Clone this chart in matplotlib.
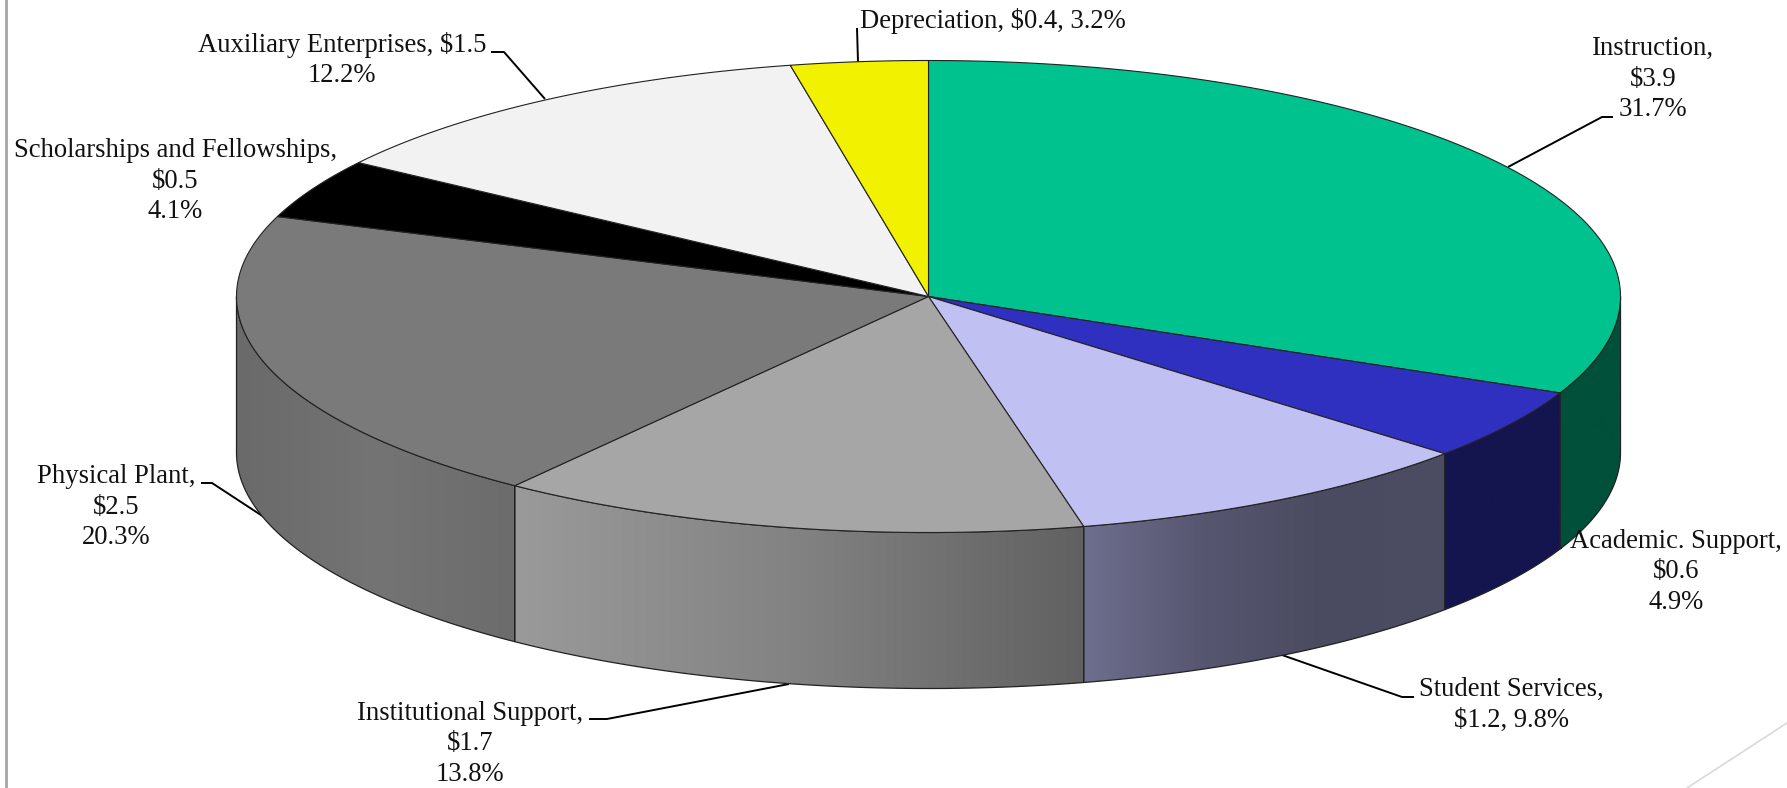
import numpy as np
import matplotlib.pyplot as plt
from matplotlib.colors import LinearSegmentedColormap
from matplotlib.patches import Polygon

plt.rcParams['font.family'] = ['Liberation Serif', 'DejaVu Serif']

names = ['Instruction', 'Academic. Support', 'Student Services', 'Institutional Support',
         'Physical Plant', 'Scholarships and Fellowships', 'Auxiliary Enterprises', 'Depreciation']
dollars = [3.9, 0.6, 1.2, 1.7, 2.5, 0.5, 1.5, 0.4]
percents = [31.7, 4.9, 9.8, 13.8, 20.3, 4.1, 12.2, 3.2]
templates = ['{n},\n${d}\n{p}%', '{n},\n${d}\n{p}%', '{n},\n${d}, {p}%', '{n},\n${d}\n{p}%',
             '{n},\n${d}\n{p}%', '{n},\n${d}\n{p}%', '{n}, ${d}\n{p}%', '{n}, ${d}, {p}%']
top_colors = ['#00C28F', '#3030C0', '#C0C0F2', '#A6A6A6', '#7A7A7A', '#000000', '#F2F2F2', '#F2F200']
side_colors = [['#00503A', '#00503A'], ['#14144F', '#14144F'],
               ['#6E6E8E', '#565670', '#4A4A60', '#4C4C62'], ['#9A9A9A', '#828282', '#616161'],
               ['#6A6A6A', '#747474', '#6C6C6C']]

# label centres and leader lines, in pixels of the picture
label_x = [1653, 1676, 1511, 470, 116, 175, 342, 993]
label_y = [79, 572, 705, 744, 507, 181, 60, 21]
leaders = [[(1508, 167), (1602, 117), (1613, 117)],
           [(1505, 582), (1550, 548), (1562, 548)],
           [(1282, 655), (1402, 697), (1414, 697)],
           [(789, 684), (607, 719), (589, 719)],
           [(267, 519), (212, 483), (201, 483)],
           [],
           [(545, 99), (504, 52), (491, 52)],
           [(858, 62), (857, 28)]]

cx, cy = 928.5, 296.5
a, b = 692, 236
depth = 156


def rim(t, drop=0):
    return np.column_stack([cx + a * np.sin(t), cy - b * np.cos(t) + drop])


fig = plt.figure(figsize=[17.87, 7.88], dpi=100)
ax = fig.add_axes([0, 0, 1, 1])
ax.axis('off')

edges = np.radians(np.cumsum([0] + percents) * 3.6)

# sides, only the front half of the rim shows
for i, colors in enumerate(side_colors):
    t = np.linspace(max(edges[i], np.pi / 2), min(edges[i + 1], 1.5 * np.pi), 200)
    pts = np.vstack([rim(t), rim(t[::-1], depth)])
    side = Polygon(pts, closed=True, facecolor='none', edgecolor='#222222', lw=0.9, zorder=3)
    ax.add_patch(side)
    cmap = LinearSegmentedColormap.from_list('side', colors)
    x0, x1 = pts[:, 0].min(), pts[:, 0].max()
    im = ax.imshow(np.linspace(0, 1, 256).reshape(1, -1), cmap=cmap, aspect='auto',
                   extent=[x0, x1, pts[:, 1].max(), pts[:, 1].min()], zorder=2)
    im.set_clip_path(side)

# top of the pie
for i, color in enumerate(top_colors):
    t = np.linspace(edges[i], edges[i + 1], 200)
    pts = np.vstack([[cx, cy], rim(t)])
    ax.add_patch(Polygon(pts, closed=True, facecolor=color, edgecolor='#222222', lw=0.8, zorder=4))

for line in leaders:
    if line:
        xs, ys = zip(*line)
        ax.plot(xs, ys, color='black', lw=1.4, zorder=1, solid_capstyle='butt')

for i, name in enumerate(names):
    text = templates[i].format(n=name, d=dollars[i], p=percents[i])
    ax.text(label_x[i], label_y[i], text, ha='center', va='center', ma='center',
            fontsize=19.2, linespacing=1.3, color='#111111', zorder=5)

# slide frame left in the screenshot
ax.plot([5.5, 5.5], [0, 788], color='#A6A6A6', lw=2)
ax.plot([1687, 1787], [788, 723], color='#D9D9D9', lw=1.2)

ax.set_xlim(0, 1787)
ax.set_ylim(788, 0)
fig.savefig('out.png', dpi=100, facecolor='white')
